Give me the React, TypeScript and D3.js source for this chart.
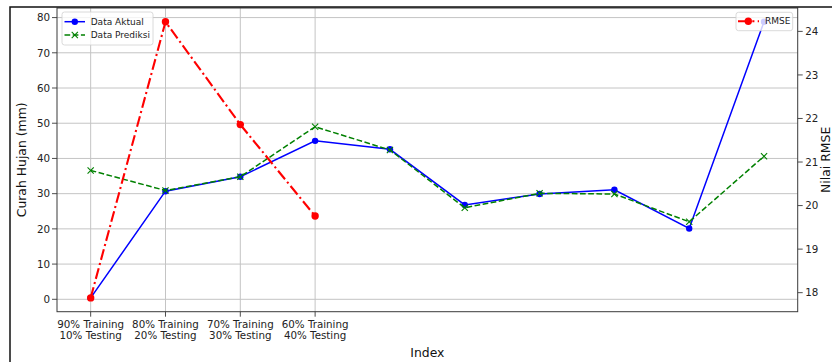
import React from "react";
import * as d3 from "d3";

// Split scenarios shown as tick labels (first four indices only)
const splitLabels: string[][] = [
  ["90% Training", "10% Testing"],
  ["80% Training", "20% Testing"],
  ["70% Training", "30% Testing"],
  ["60% Training", "40% Testing"],
];

// Rainfall series (mm), index 0..9
const dataAktual = [0.4, 30.7, 34.8, 45.0, 42.6, 26.8, 29.9, 31.1, 20.1, 78.8];
const dataPrediksi = [36.6, 30.9, 34.8, 49.0, 42.4, 26.0, 30.1, 29.9, 22.0, 40.6];

// RMSE per split scenario
const rmse = [17.88, 24.22, 21.86, 19.76];

const leftTicks = [0, 10, 20, 30, 40, 50, 60, 70, 80];
const rightTicks = [18, 19, 20, 21, 22, 23, 24];

const W = 832;
const H = 362;
const FONT = "DejaVu Sans, sans-serif";

const plot = { left: 57, right: 797.7, top: 8, bottom: 311.7 };

function paddedDomain(values: number[]): [number, number] {
  const [lo, hi] = d3.extent(values) as [number, number];
  const pad = (hi - lo) * 0.05;
  return [lo - pad, hi + pad];
}

export default function App() {
  const n = dataAktual.length;
  const x = d3
    .scaleLinear()
    .domain([-(n - 1) * 0.05, (n - 1) * 1.05])
    .range([plot.left, plot.right]);
  const yL = d3
    .scaleLinear()
    .domain(paddedDomain([...dataAktual, ...dataPrediksi]))
    .range([plot.bottom, plot.top]);
  const yR = d3.scaleLinear().domain(paddedDomain(rmse)).range([plot.bottom, plot.top]);

  const lineL = d3
    .line<number>()
    .x((_, i) => x(i))
    .y((d) => yL(d));
  const lineR = d3
    .line<number>()
    .x((_, i) => x(i))
    .y((d) => yR(d));

  const gridColor = "#c4c4c4";
  const spine = "#3a3a3a";
  const tickFont = 10.3;
  const labelFont = 12.4;
  const legendFont = 9;

  const xMarker = (cx: number, cy: number, key: string | number, s = 3.1) => (
    <g key={key} stroke="#008000" strokeWidth={1.1}>
      <line x1={cx - s} y1={cy - s} x2={cx + s} y2={cy + s} />
      <line x1={cx - s} y1={cy + s} x2={cx + s} y2={cy - s} />
    </g>
  );

  return (
    <div style={{ position: "absolute", left: 0, top: 0 }}>
      <svg width={W} height={H} style={{ display: "block", background: "#fff" }} fontFamily={FONT}>
        <rect x={0} y={0} width={W} height={H} fill="#fff" />

        {/* grid */}
        <g stroke={gridColor} strokeWidth={1}>
          {leftTicks.map((t) => (
            <line key={"gy" + t} x1={plot.left} x2={plot.right} y1={yL(t)} y2={yL(t)} />
          ))}
          {splitLabels.map((_, i) => (
            <line key={"gx" + i} x1={x(i)} x2={x(i)} y1={plot.top} y2={plot.bottom} />
          ))}
        </g>

        {/* Data Aktual */}
        <path d={lineL(dataAktual) ?? ""} fill="none" stroke="#0000ff" strokeWidth={1.5} />
        {dataAktual.map((d, i) => (
          <circle key={"a" + i} cx={x(i)} cy={yL(d)} r={3.2} fill="#0000ff" />
        ))}

        {/* Data Prediksi */}
        <path
          d={lineL(dataPrediksi) ?? ""}
          fill="none"
          stroke="#008000"
          strokeWidth={1.5}
          strokeDasharray="5.7 2.5"
        />
        {dataPrediksi.map((d, i) => xMarker(x(i), yL(d), "p" + i))}

        {/* left legend */}
        <g>
          <rect x={62} y={12} width={91} height={33} rx={2.5} fill="#fff" fillOpacity={0.8} stroke="#d0d0d0" strokeWidth={0.8} />
          <line x1={64.5} x2={85} y1={21.7} y2={21.7} stroke="#0000ff" strokeWidth={1.5} />
          <circle cx={74.8} cy={21.7} r={3.2} fill="#0000ff" />
          <text x={90.7} y={21.7} dy="0.35em" fontSize={legendFont} fill="#222">Data Aktual</text>
          <line x1={64.5} x2={85} y1={35} y2={35} stroke="#008000" strokeWidth={1.5} strokeDasharray="5.7 2.5" />
          {xMarker(74.8, 35, "lp")}
          <text x={90.7} y={35} dy="0.35em" fontSize={legendFont} fill="#222">Data Prediksi</text>
        </g>

        {/* RMSE on secondary axis */}
        <path
          d={lineR(rmse) ?? ""}
          fill="none"
          stroke="#ff0000"
          strokeWidth={2.1}
          strokeDasharray="11 3.3 2.1 3.3"
        />
        {rmse.map((d, i) => (
          <circle key={"r" + i} cx={x(i)} cy={yR(d)} r={3.7} fill="#ff0000" />
        ))}

        {/* right legend */}
        <g>
          <rect x={736} y={12.3} width={56.7} height={18.4} rx={2.5} fill="#fff" fillOpacity={0.8} stroke="#d0d0d0" strokeWidth={0.8} />
          <line x1={738} x2={759} y1={21.3} y2={21.3} stroke="#ff0000" strokeWidth={2.1} strokeDasharray="11 3.3 2.1 3.3" />
          <circle cx={748.3} cy={21.3} r={3.7} fill="#ff0000" />
          <text x={765} y={21.3} dy="0.35em" fontSize={legendFont} fill="#222">RMSE</text>
        </g>

        {/* spines */}
        <rect
          x={plot.left}
          y={plot.top}
          width={plot.right - plot.left}
          height={plot.bottom - plot.top}
          fill="none"
          stroke={spine}
          strokeWidth={1}
        />

        {/* left axis ticks */}
        <g fontSize={tickFont} fill="#222">
          {leftTicks.map((t) => (
            <g key={"lt" + t}>
              <line x1={plot.left - 5} x2={plot.left} y1={yL(t)} y2={yL(t)} stroke={spine} strokeWidth={0.9} />
              <text x={plot.left - 7} y={yL(t)} dy="0.36em" textAnchor="end">{t}</text>
            </g>
          ))}
        </g>

        {/* right axis ticks */}
        <g fontSize={tickFont} fill="#222">
          {rightTicks.map((t) => (
            <g key={"rt" + t}>
              <line x1={plot.right} x2={plot.right + 5} y1={yR(t)} y2={yR(t)} stroke={spine} strokeWidth={0.9} />
              <text x={plot.right + 7.5} y={yR(t)} dy="0.36em">{t}</text>
            </g>
          ))}
        </g>

        {/* x ticks */}
        <g fontSize={tickFont} fill="#222" textAnchor="middle">
          {splitLabels.map((lines, i) => (
            <g key={"xt" + i}>
              <line x1={x(i)} x2={x(i)} y1={plot.bottom} y2={plot.bottom + 5} stroke={spine} strokeWidth={0.9} />
              {lines.map((s, j) => (
                <text key={j} x={x(i)} y={324 + j * 11.7} dy="0.36em">{s}</text>
              ))}
            </g>
          ))}
        </g>

        {/* axis titles */}
        <text x={(plot.left + plot.right) / 2} y={352.3} dy="0.36em" textAnchor="middle" fontSize={labelFont} fill="#111">
          Index
        </text>
        <text
          transform={`translate(26,${(plot.top + plot.bottom) / 2}) rotate(-90)`}
          textAnchor="middle"
          fontSize={labelFont}
          fill="#111"
        >
          Curah Hujan (mm)
        </text>
        <text
          transform={`translate(830,${(plot.top + plot.bottom) / 2}) rotate(-90)`}
          textAnchor="middle"
          fontSize={labelFont}
          fill="#111"
        >
          Nilai RMSE
        </text>

        {/* figure frame */}
        <path d={`M10,${H} L10,7 L${W},7`} fill="none" stroke="#111" strokeWidth={1.5} />
      </svg>
    </div>
  );
}
